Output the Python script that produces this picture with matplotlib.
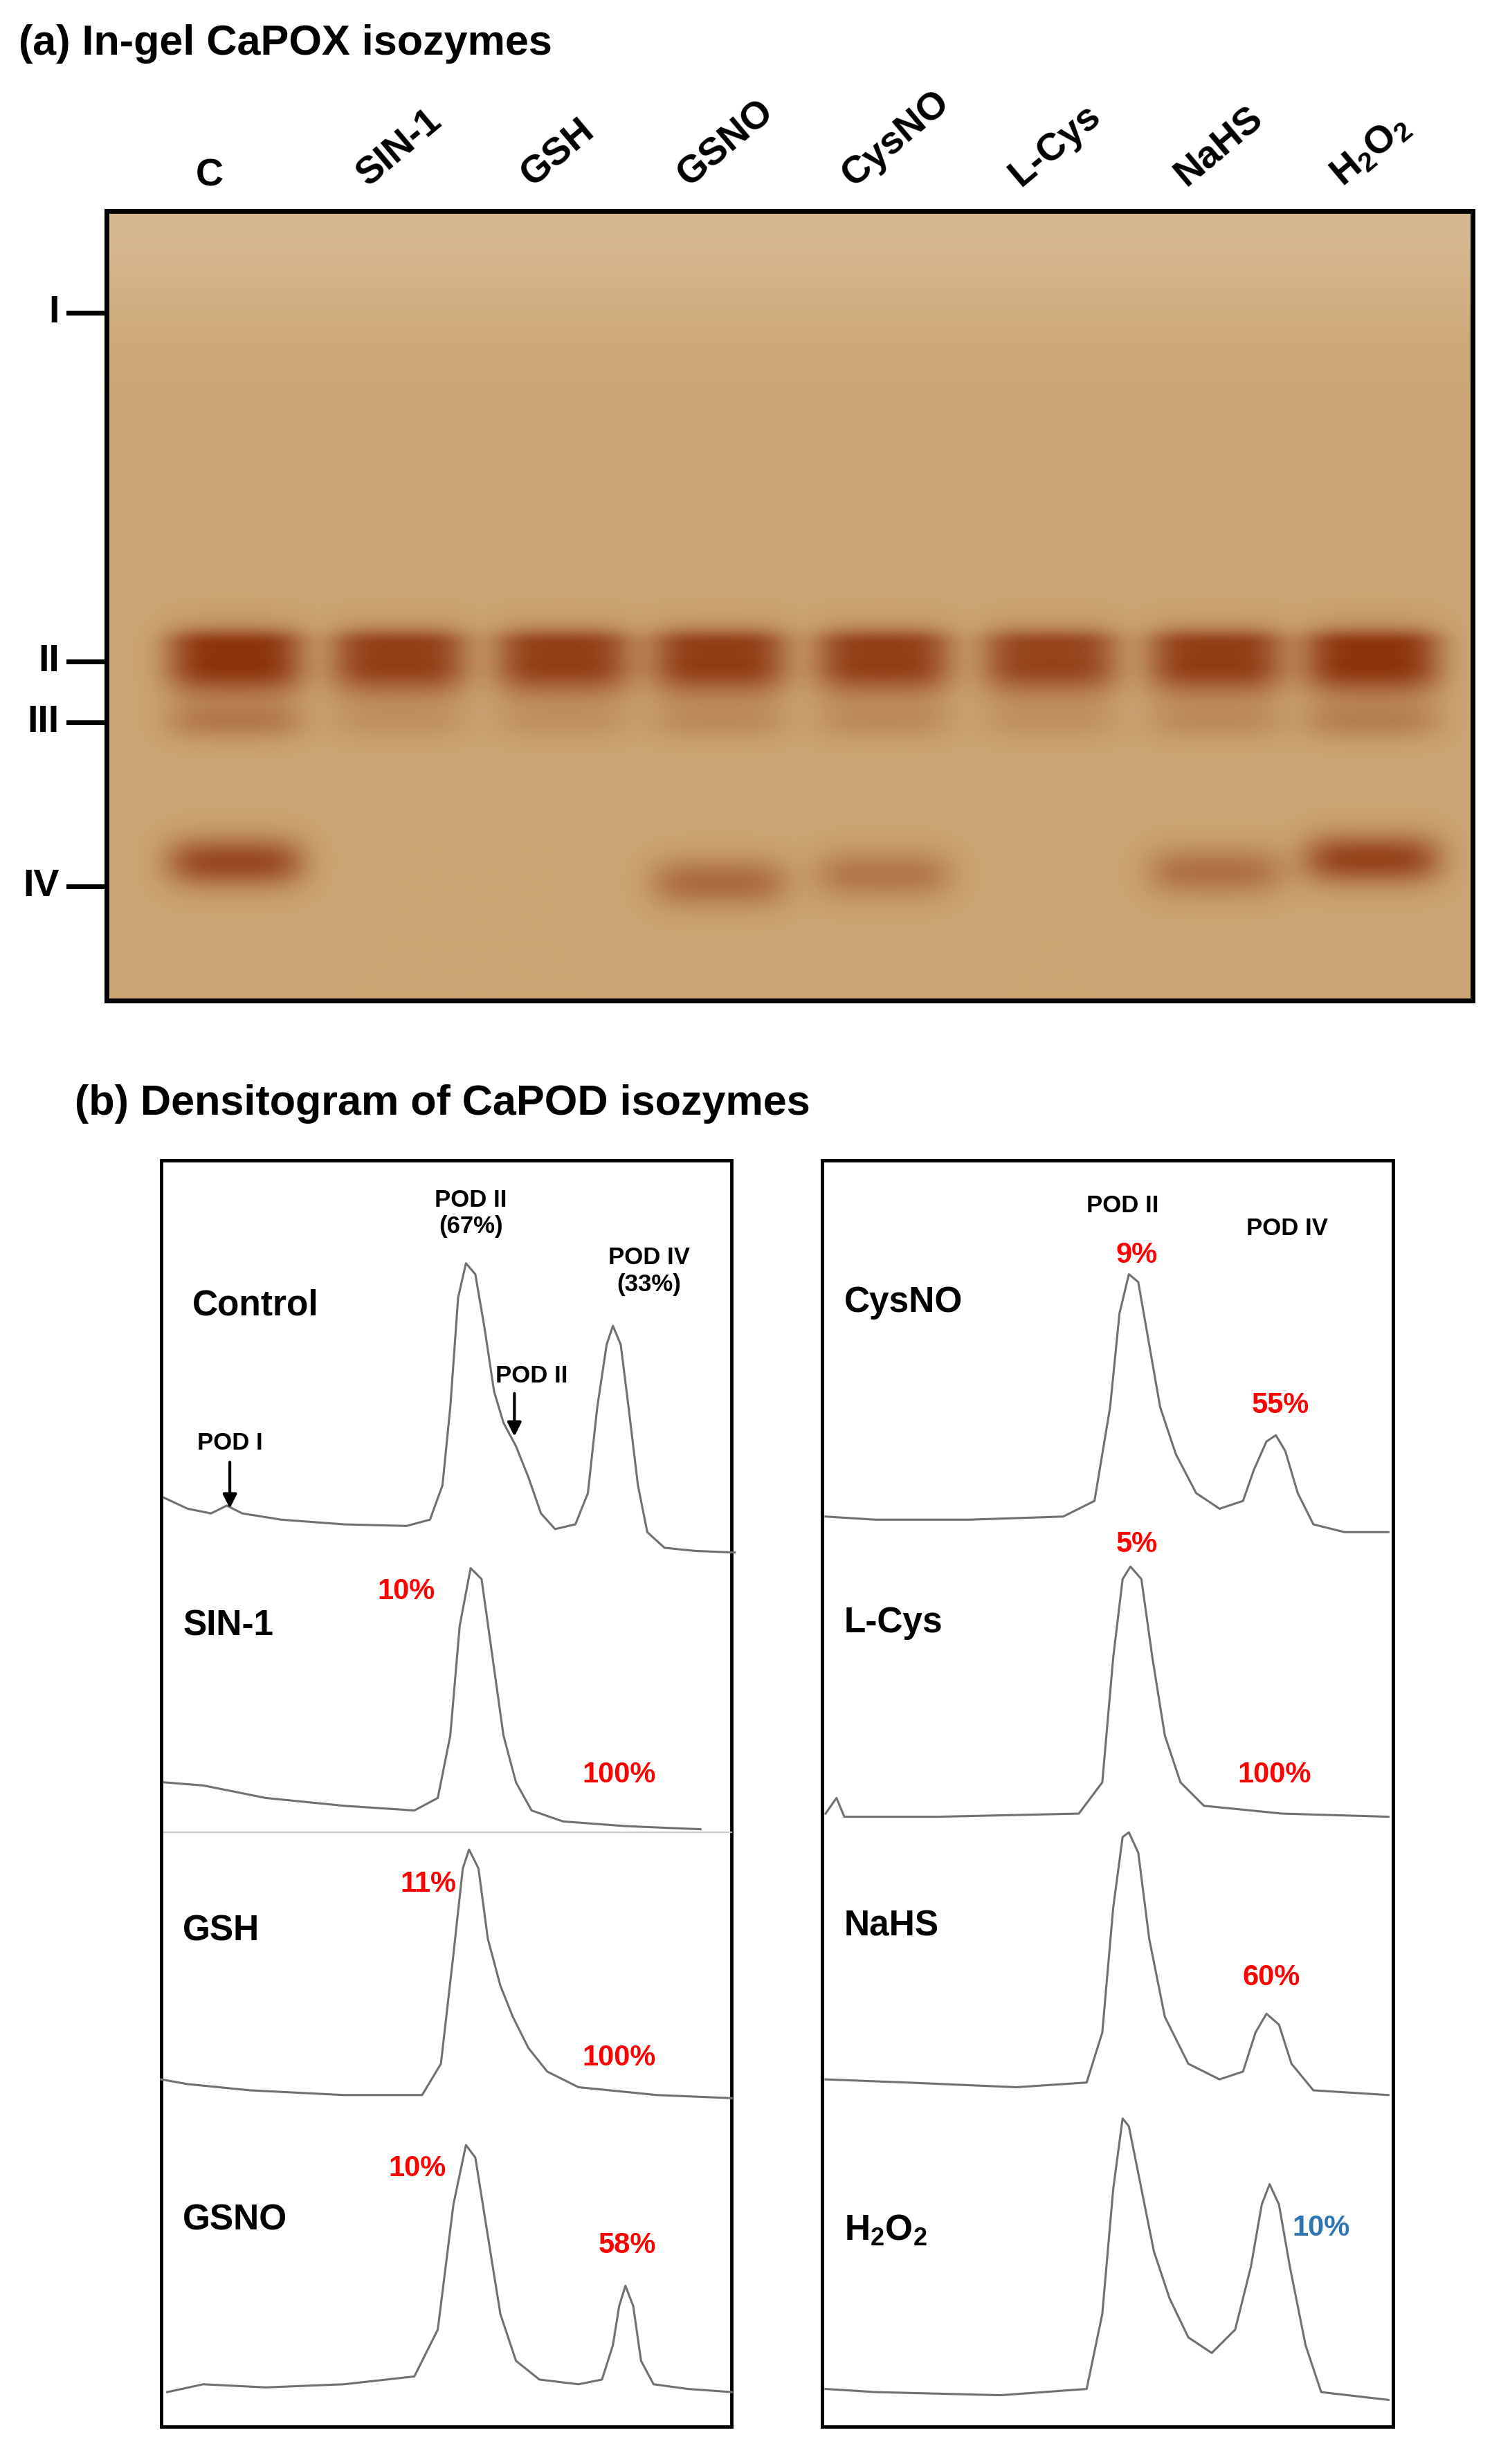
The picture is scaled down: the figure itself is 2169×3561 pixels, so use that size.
import numpy as np
import matplotlib
matplotlib.use("Agg")
import matplotlib.pyplot as plt
plt.rcParams['font.family'] = ['Liberation Sans', 'DejaVu Sans']
plt.rcParams['mathtext.fontset'] = 'custom'
plt.rcParams['mathtext.rm'] = 'Liberation Sans:bold'
plt.rcParams['mathtext.default'] = 'rm'

W, H = 960, 1576
lanes = ["C", "SIN-1", "GSH", "GSNO", "CysNO", "L-Cys", "NaHS", "H$_2$O$_2$"]
lane_x = [150, 255, 360, 460, 565, 672, 778, 878]
band_II = [1.0, 0.9, 0.9, 0.92, 0.9, 0.85, 0.92, 1.0]
band_III = [0.35, 0.15, 0.15, 0.2, 0.2, 0.15, 0.2, 0.3]
band_IV = [0.8, 0.0, 0.0, 0.5, 0.4, 0.0, 0.45, 0.85]
band_IV_y = [552, 560, 560, 565, 560, 560, 558, 550]
markers = ["I", "II", "III", "IV"]
marker_y = [200, 423, 462, 567]

traces = {
 "Control": [(105,958),(120,965),(135,968),(145,963),(155,968),(180,972),(220,975),(260,976),(275,972),(283,950),(288,900),(293,830),(298,808),(304,815),(310,850),(316,890),(322,910),(330,925),(338,945),(346,968),(355,978),(368,975),(376,955),(382,900),(388,860),(392,848),(397,860),(402,900),(408,950),(414,980),(425,990),(445,992),(470,993)],
 "SIN-1": [(105,1140),(130,1142),(170,1150),(220,1155),(265,1158),(280,1150),(288,1110),(294,1040),(301,1003),(308,1010),(315,1060),(322,1110),(330,1140),(340,1158),(360,1165),(400,1168),(448,1170)],
 "GSH": [(103,1330),(120,1333),(160,1337),(220,1340),(270,1340),(282,1320),(290,1250),(296,1195),(300,1183),(306,1195),(312,1240),(320,1270),(328,1290),(338,1310),(350,1325),(370,1335),(420,1340),(468,1342)],
 "GSNO": [(107,1530),(130,1525),(170,1527),(220,1525),(265,1520),(280,1490),(290,1410),(298,1372),(304,1380),(312,1430),(320,1480),(330,1510),(345,1522),(370,1525),(385,1522),(392,1500),(396,1475),(400,1462),(405,1475),(410,1510),(418,1525),(440,1528),(468,1530)],
 "CysNO": [(528,970),(560,972),(620,972),(680,970),(700,960),(710,900),(716,840),(722,815),(728,820),(735,860),(742,900),(752,930),(765,955),(780,965),(795,960),(802,940),(810,922),(816,918),(822,928),(830,955),(840,975),(860,980),(888,980)],
 "L-Cys": [(528,1160),(535,1150),(540,1162),(600,1162),(690,1160),(705,1140),(712,1060),(718,1010),(723,1002),(730,1010),(737,1060),(745,1110),(755,1140),(770,1155),(820,1160),(888,1162)],
 "NaHS": [(528,1330),(580,1332),(650,1335),(695,1332),(705,1300),(712,1220),(718,1175),(722,1172),(728,1185),(735,1240),(745,1290),(760,1320),(780,1330),(795,1325),(803,1300),(810,1288),(818,1295),(826,1320),(840,1337),(888,1340)],
 "H2O2": [(528,1528),(560,1530),(640,1532),(695,1528),(705,1480),(712,1400),(718,1355),(722,1360),(728,1390),(738,1440),(748,1470),(760,1495),(775,1505),(790,1490),(800,1450),(807,1410),(812,1397),(818,1410),(825,1450),(835,1500),(845,1530),(888,1535)],
}
labels = [("Control",123,835),("SIN-1",117,1040),("GSH",117,1235),("GSNO",117,1420),
          ("CysNO",540,833),("L-Cys",540,1038),("NaHS",540,1232),("H$_2$O$_2$",540,1427)]
pcts = [("10%",260,1018,"red"),("100%",396,1135,"red"),("11%",274,1205,"red"),("100%",396,1316,"red"),
        ("10%",267,1387,"red"),("58%",401,1436,"red"),("9%",727,803,"red"),("55%",819,899,"red"),
        ("5%",727,988,"red"),("100%",815,1135,"red"),("60%",813,1265,"red"),("10%",845,1425,"#2e75b6")]

fig = plt.figure(figsize=(21.69, 35.61), dpi=100)
ax = fig.add_axes([0, 0, 1, 1])
ax.set_xlim(0, W); ax.set_ylim(H, 0); ax.axis("off")

gx0, gx1, gy0, gy1 = 68, 942, 135, 640
xs = np.linspace(gx0, gx1, 700); ys = np.linspace(gy0, gy1, 420)
X, Y = np.meshgrid(xs, ys)
d = np.zeros_like(X)
for i, lx in enumerate(lane_x):
    prof = np.exp(-((X - lx) / 44.0) ** 4)
    d += prof * band_II[i] * (np.exp(-((Y - 425) / 20.0) ** 2) + 0.35*np.exp(-((Y-410)/7)**2))
    d += prof * band_III[i] * np.exp(-((Y - 462) / 12.0) ** 2)
    d += prof * band_IV[i] * np.exp(-((Y - band_IV_y[i]) / 16.0) ** 2)
d = np.clip(d, 0, 1)
top = np.exp(-((Y - gy0) / 70.0) ** 2)
bg = np.stack([203 + 12*top, 165 + 20*top, 115 + 30*top], -1) / 255.0
band = np.array([140, 50, 12]) / 255.0
img = bg * (1 - d[..., None]) + band * d[..., None]
ax.imshow(img, extent=(gx0, gx1, gy1, gy0), aspect="auto", zorder=1)
ax.add_patch(plt.Rectangle((gx0, gy0), gx1-gx0, gy1-gy0, fill=False, lw=5, ec="black", zorder=3))

ax.text(12, 28, "(a) In-gel CaPOX isozymes", fontsize=44, fontweight="bold", va="center")
for name, lx in zip(lanes, lane_x):
    ax.text(lx - 16, 124, name, fontsize=40, fontweight="bold", rotation=40 if name != "C" else 0,
            ha="left" if name != "C" else "center", va="bottom", rotation_mode="anchor")
for m, my in zip(markers, marker_y):
    ax.plot([44, 68], [my, my], color="black", lw=5, zorder=4)
    ax.text(38, my, m, fontsize=40, fontweight="bold", ha="right", va="center")

ax.text(48, 706, "(b) Densitogram of CaPOD isozymes", fontsize=44, fontweight="bold", va="center")
for bx in (103, 526):
    ax.add_patch(plt.Rectangle((bx, 742), 365, 810, fill=False, lw=3.5, ec="black"))
ax.plot([105, 468], [1172, 1172], color="#c8c8c8", lw=1.5)
for k, pts in traces.items():
    p = np.array(pts)
    ax.plot(p[:, 0], p[:, 1], color="#707070", lw=2.2)
for t, x, y in labels:
    ax.text(x, y, t, fontsize=37, fontweight="bold", va="center")
for t, x, y, c in pcts:
    ax.text(x, y, t, fontsize=30, fontweight="bold", color=c, ha="center", va="center")
small = dict(fontsize=25, fontweight="bold", ha="center", va="center", linespacing=1.2)
ax.text(301, 776, "POD II\n(67%)", **small)
ax.text(415, 813, "POD IV\n(33%)", **small)
ax.text(340, 880, "POD II", **small)
ax.text(147, 923, "POD I", **small)
ax.text(718, 771, "POD II", **small)
ax.text(823, 786, "POD IV", **small)
ax.annotate("", xy=(329, 920), xytext=(329, 890), arrowprops=dict(arrowstyle="-|>", color="black", lw=3, mutation_scale=30))
ax.annotate("", xy=(147, 966), xytext=(147, 934), arrowprops=dict(arrowstyle="-|>", color="black", lw=3, mutation_scale=30))

fig.savefig("out.png", dpi=100)
